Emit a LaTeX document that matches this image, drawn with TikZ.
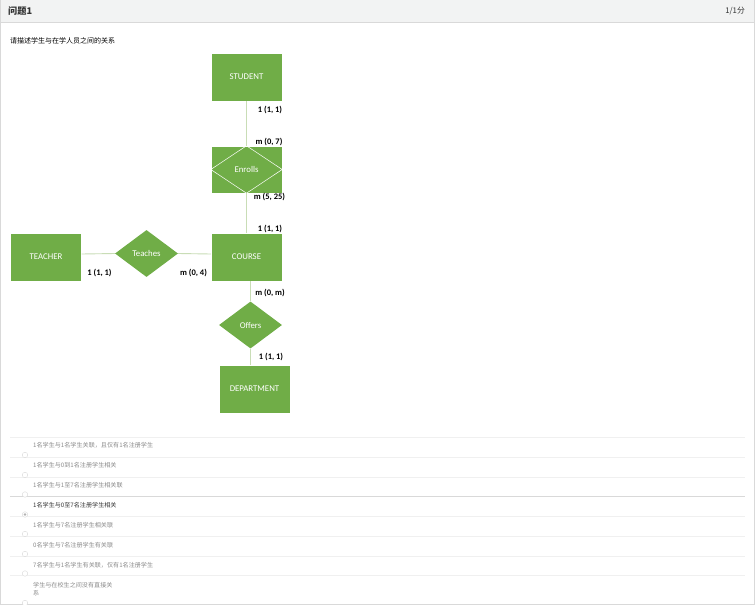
\documentclass[tikz,border=0pt]{standalone}
\usepackage{fontspec}
\setmainfont{Carlito}
\newfontfamily\cjk{Noto Sans CJK SC}
\usetikzlibrary{shapes.geometric}
\definecolor{ergreen}{HTML}{70AD47}
\definecolor{erline}{HTML}{C9DDB6}
\definecolor{hdrbg}{HTML}{F2F3F3}
\definecolor{hdrline}{HTML}{D9D9D9}
\definecolor{sepline}{HTML}{F0F0F0}
\definecolor{opttext}{HTML}{8A8A8A}
\definecolor{seltext}{HTML}{333333}
\tikzset{
  entity/.style={fill=ergreen, draw=white, line width=0.4pt, minimum width=71pt, minimum height=48pt, inner sep=0pt, text=white, font=\fontsize{8.8}{10}\selectfont},
  relbox/.style={fill=ergreen, draw=white, line width=0.4pt, minimum width=71pt, minimum height=47pt, inner sep=0pt},
  reldia/.style={diamond, fill=ergreen, draw=none, aspect=1.35, minimum width=63pt, minimum height=47pt, inner sep=0pt},
  reltext/.style={text=white, font=\fontsize{8.8}{10}\selectfont, inner sep=0pt},
  conn/.style={draw=erline, line width=0.9pt},
  card/.style={font=\bfseries\fontsize{8.5}{10}\selectfont, text=black, inner sep=0pt},
  opt/.style={anchor=west, inner sep=0pt, text=opttext, font=\cjk\fontsize{6.1}{7}\selectfont},
  optsel/.style={anchor=west, inner sep=0pt, text=seltext, font=\cjk\fontsize{6.1}{7}\selectfont},
  radio/.style={circle, draw=hdrline, fill=white, line width=0.4pt, minimum size=5.5pt, inner sep=0pt},
  radiosel/.style={circle, draw=hdrline, fill=white, line width=0.4pt, minimum size=5.5pt, inner sep=0pt, path picture={\fill[gray!60] (path picture bounding box.center) circle (1.4pt);}},
  sep/.style={draw=sepline, line width=0.8pt}
}
\begin{document}
\begin{tikzpicture}[x=1pt, y=-1pt]
\useasboundingbox (0,0) rectangle (755,605);
% page background and frame
\fill[white] (0,0) rectangle (755,605);
\fill[hdrbg] (0,0) rectangle (755,22);
\draw[hdrline, line width=0.8pt] (0,22) -- (755,22);
\draw[hdrline, line width=0.8pt] (0.4,0) -- (0.4,605);
\draw[hdrline, line width=0.8pt] (754.6,0) -- (754.6,605);
\draw[hdrline, line width=0.8pt] (0,604.6) -- (755,604.6);
\node[anchor=west, inner sep=0pt, text=seltext, font=\cjk\bfseries\fontsize{9.2}{11}\selectfont] (title) at (8,11) {问题1};
\node[anchor=east, inner sep=0pt, text=seltext, font=\cjk\fontsize{7.8}{9}\selectfont] (score) at (745,11) {1/1分};
\node[anchor=west, inner sep=0pt, text=black, font=\cjk\fontsize{7}{8}\selectfont] (question) at (10,41) {请描述学生与在学人员之间的关系};

% ER diagram
\node[entity] (student) at (246.5,77) {STUDENT};
\node[relbox] (enrollsbox) at (246.5,169.5) {};
\draw[white, line width=0.5pt] (enrollsbox.west) -- (enrollsbox.north) -- (enrollsbox.east) -- (enrollsbox.south) -- cycle;
\node[reltext] (enrolls) at (246.5,169.5) {Enrolls};
\node[entity] (course) at (246.5,257) {COURSE};
\node[entity] (teacher) at (46,257) {TEACHER};
\node[reldia] (teaches) at (146.5,253.5) {};
\node[reltext] (teacheslbl) at (146.5,253) {Teaches};
\node[reldia] (offers) at (250.5,325) {};
\node[reltext] (offerslbl) at (250.5,325) {Offers};
\node[entity] (department) at (254.5,389) {DEPARTMENT};

\draw[conn] (student.south) -- (enrollsbox.north);
\draw[conn] (enrollsbox.south) -- (course.north);
\draw[conn] (teacher.east |- 0,254) -- (teaches.west);
\draw[conn] (teaches.east) -- (course.west |- 0,254);
\draw[conn] (offers.north |- course.south) -- (offers.north);
\draw[conn] (offers.south) -- (offers.south |- department.north);

\node[card] (c1) at (270,110) {1 (1, 1)};
\node[card] (c2) at (269,141.5) {m (0, 7)};
\node[card] (c3) at (269.5,197) {m (5, 25)};
\node[card] (c4) at (270,228.5) {1 (1, 1)};
\node[card] (c5) at (99.5,272.5) {1 (1, 1)};
\node[card] (c6) at (193.5,272.5) {m (0, 4)};
\node[card] (c7) at (270,293) {m (0, m)};
\node[card] (c8) at (271,356.5) {1 (1, 1)};

% options
\draw[sep] (10,437.3) -- (745,437.3);
\draw[sep] (10,457.3) -- (745,457.3);
\draw[sep] (10,477.7) -- (745,477.7);
\draw[hdrline, line width=0.8pt] (10,496.5) -- (745,496.5);
\draw[sep] (10,516.3) -- (745,516.3);
\draw[sep] (10,536.7) -- (745,536.7);
\draw[sep] (10,556.7) -- (745,556.7);
\draw[sep] (10,575.3) -- (745,575.3);

\node[opt] (o1) at (33,445) {1名学生与1名学生关联，且仅有1名注册学生};
\node[radio] (r1) at (25,455) {};
\node[opt] (o2) at (33,465) {1名学生与0到1名注册学生相关};
\node[radio] (r2) at (25,475) {};
\node[opt] (o3) at (33,485) {1名学生与1至7名注册学生相关联};
\node[radio] (r3) at (25,494.5) {};
\node[optsel] (o4) at (33,505) {1名学生与0至7名注册学生相关};
\node[radiosel] (r4) at (25,514.5) {};
\node[opt] (o5) at (33,525.5) {1名学生与7名注册学生相关联};
\node[radio] (r5) at (25,534) {};
\node[opt] (o6) at (33,545) {0名学生与7名注册学生有关联};
\node[radio] (r6) at (25,554) {};
\node[opt] (o7) at (33,565) {7名学生与1名学生有关联，仅有1名注册学生};
\node[radio] (r7) at (25,573.5) {};
\node[opt] (o8a) at (33,585) {学生与在校生之间没有直接关};
\node[opt] (o8b) at (33,593.5) {系};
\node[radio] (r8) at (25,603) {};
\end{tikzpicture}
\end{document}
